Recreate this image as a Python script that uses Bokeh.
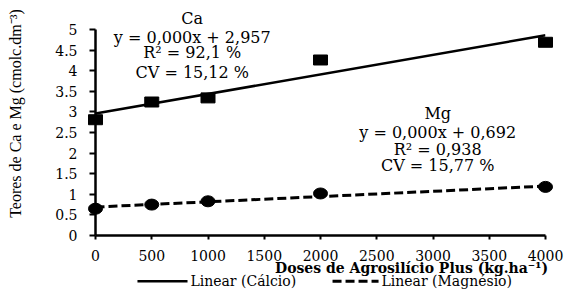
import math
from bokeh.plotting import figure
from bokeh.models import FixedTicker, Range1d
from bokeh.core.properties import value
from bokeh.embed import file_html
from bokeh.resources import INLINE

# ---- data ----
doses = [0, 500, 1000, 2000, 4000]
ca = [2.81, 3.24, 3.34, 4.26, 4.69]
mg = [0.65, 0.75, 0.83, 1.02, 1.18]
trend_x = [0, 4000]
ca_trend = [2.96, 4.86]
mg_trend = [0.69, 1.20]
x_ticks = [0, 500, 1000, 1500, 2000, 2500, 3000, 3500, 4000]
y_ticks = [0, 0.5, 1, 1.5, 2, 2.5, 3, 3.5, 4, 4.5, 5]
y_tick_labels = ["0", "0.5", "1", "1.5", "2", "2.5", "3", "3.5", "4", "4.5", "5"]
ca_texts = ["Ca", "y = 0,000x + 2,957", "R\u00b2 = 92,1 %", "CV = 15,12 %"]
mg_texts = ["Mg", "y = 0,000x + 0,692", "R\u00b2 = 0,938", "CV = 15,77 %"]
x_title = "Doses de Agrosil\u00edcio Plus (kg.ha\u207b\u00b9)"
y_title = "Teores de Ca e Mg (cmolc.dm\u207b\u00b3)"
legend_labels = ["Linear (C\u00e1lcio)", "Linear (Magn\u00e9sio)"]

SERIF = "DejaVu Serif"

p = figure(width=570, height=291, output_backend="svg", toolbar_location=None,
           x_range=Range1d(0, 4000), y_range=Range1d(0, 5),
           min_border_left=95, min_border_right=25, min_border_top=29, min_border_bottom=56)
p.outline_line_color = None
p.xgrid.grid_line_color = None
p.ygrid.grid_line_color = None
p.background_fill_color = "white"
p.border_fill_color = "white"

for ax in (p.xaxis[0], p.yaxis[0]):
    ax.axis_line_width = 2.5
    ax.axis_line_color = "black"
    ax.major_tick_line_width = 2
    ax.major_tick_line_color = "black"
    ax.minor_tick_line_color = None
    ax.major_tick_in = 0
    ax.major_label_text_font = SERIF
    ax.major_label_text_font_size = "14px"
    ax.major_label_text_color = "black"

p.xaxis.ticker = FixedTicker(ticks=x_ticks)
p.xaxis.major_tick_out = 4
p.xaxis.major_label_standoff = 10
p.yaxis.ticker = FixedTicker(ticks=y_ticks)
p.yaxis.major_label_overrides = {t: l for t, l in zip(y_ticks, y_tick_labels)}
p.yaxis.major_tick_out = 6
p.yaxis.major_label_standoff = 12

# trend lines
p.line(trend_x, ca_trend, line_color="black", line_width=2.5)
p.line(trend_x, mg_trend, line_color="black", line_width=3, line_dash="9 4")

# markers (overlay level so they can overhang the axes)
p.rect(doses, ca, width=14, height=10, width_units="screen", height_units="screen",
       fill_color="black", line_color="black", level="overlay")
p.ellipse(doses, mg, width=14, height=11, width_units="screen", height_units="screen",
          fill_color="black", line_color="black", level="overlay")

# equation annotations (text glyphs at overlay level: not clipped to the frame)
p.text(x=[860] * 4, y=[5.27, 4.80, 4.44, 3.96], text=ca_texts,
       text_align="center", text_baseline="middle", text_font=value(SERIF),
       text_font_size="16px", text_color="black", level="overlay")
p.text(x=[3042] * 4, y=[2.96, 2.50, 2.09, 1.70], text=mg_texts,
       text_align="center", text_baseline="middle", text_font=value(SERIF),
       text_font_size="16px", text_color="black", level="overlay")

# axis titles
p.text(x=[2809], y=[-0.78], text=[x_title], text_align="center", text_baseline="middle",
       text_font=value(SERIF), text_font_size="14px", text_font_style="bold",
       text_color="black", level="overlay")
p.text(x=[-711], y=[2.96], text=[y_title], angle=math.pi / 2, text_align="center",
       text_baseline="middle", text_font=value("Liberation Serif"), text_font_size="16px",
       text_color="black", level="overlay")

# legend (drawn below the axis)
LEG_Y = -1.11
p.line([373, 818], [LEG_Y, LEG_Y], line_color="black", line_width=2.5, level="overlay")
p.line([2107, 2516], [LEG_Y, LEG_Y], line_color="black", line_width=3, line_dash="9 4",
       level="overlay")
p.text(x=[844, 2542], y=[LEG_Y, LEG_Y], text=legend_labels, text_align="left",
       text_baseline="middle", text_font=value(SERIF), text_font_size="14px",
       text_color="black", level="overlay")

open("out.html", "w").write(file_html(p, INLINE))
